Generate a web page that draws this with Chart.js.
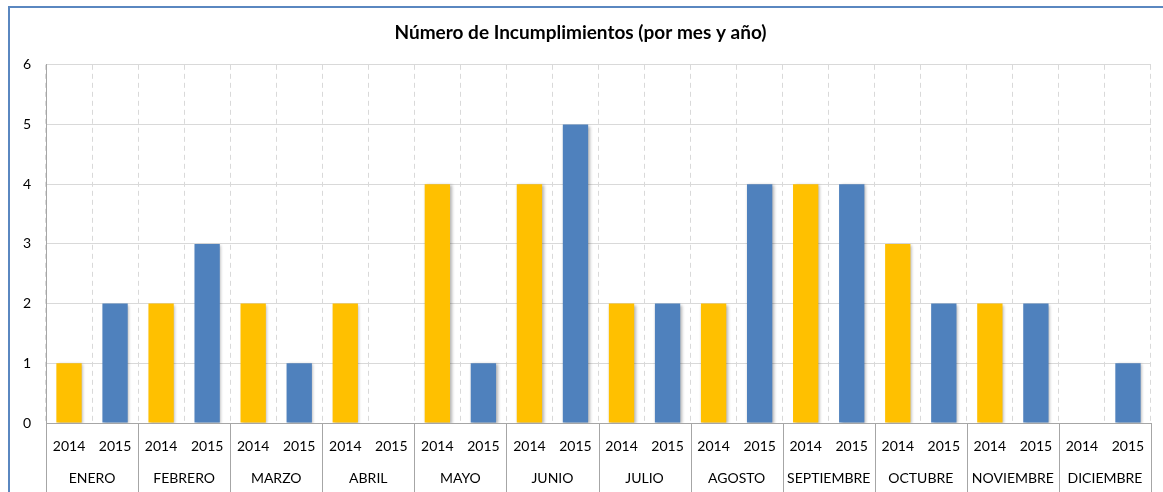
<!DOCTYPE html>
<html>
<head>
<meta charset="utf-8">
<script src="https://cdn.jsdelivr.net/npm/chart.js@4"></script>
<style>
  html, body { margin: 0; padding: 0; background: #fff; }
  #wrap { position: relative; width: 1163px; height: 492px; }
  #frame { position: absolute; left: 8px; top: 6px; width: 1170px; height: 500px;
           border-left: 2px solid #5a87c0; border-top: 2px solid #5a87c0; box-sizing: border-box; }
  canvas { position: absolute; left: 0; top: 0; }
</style>
</head>
<body>
<div id="wrap">
  <canvas id="incChart" width="1163" height="492"></canvas>
  <div id="frame"></div>
</div>
<script>
const months = ['ENERO', 'FEBRERO', 'MARZO', 'ABRIL', 'MAYO', 'JUNIO', 'JULIO',
  'AGOSTO', 'SEPTIEMBRE', 'OCTUBRE', 'NOVIEMBRE', 'DICIEMBRE'];
const years = ['2014', '2015'];
const values2014 = [1, 2, 2, 2, 4, 4, 2, 2, 4, 3, 2, 0];
const values2015 = [2, 3, 1, 0, 1, 5, 2, 4, 4, 2, 2, 1];
const yTicks = [0, 1, 2, 3, 4, 5, 6];

const yellow = '#FFC000';
const blue = '#4F81BD';
const font = 'Lato, "Open Sans", sans-serif';

// one bar per month/year, alternating 2014 / 2015
const labels = [];
const values = [];
const colors = [];
months.forEach((m, i) => {
  labels.push(years[0]); values.push(values2014[i]); colors.push(yellow);
  labels.push(years[1]); values.push(values2015[i]); colors.push(blue);
});

// month names + solid separators under the year row
const monthRow = {
  id: 'monthRow',
  afterDraw(chart) {
    const x = chart.scales.x;
    const c = chart.ctx;
    const area = chart.chartArea;
    const half = (x.getPixelForValue(1) - x.getPixelForValue(0)) / 2;
    c.save();
    c.strokeStyle = '#a6a6a6';
    c.lineWidth = 1;
    // solid y axis line on top of the dashed grid
    c.beginPath();
    c.moveTo(Math.round(area.left) + 0.5, area.top);
    c.lineTo(Math.round(area.left) + 0.5, area.bottom);
    c.stroke();
    c.fillStyle = '#000';
    c.font = '14px ' + font;
    c.textAlign = 'center';
    c.textBaseline = 'middle';
    months.forEach((m, i) => {
      const left = x.getPixelForValue(i * 2) - half;
      const right = x.getPixelForValue(i * 2 + 1) + half;
      c.beginPath();
      c.moveTo(Math.round(left) + 0.5, area.bottom);
      c.lineTo(Math.round(left) + 0.5, chart.height);
      c.stroke();
      if (i === months.length - 1) {
        c.beginPath();
        c.moveTo(Math.round(right) + 0.5, area.bottom);
        c.lineTo(Math.round(right) + 0.5, chart.height);
        c.stroke();
      }
      c.fillText(m, (left + right) / 2, area.bottom + 55);
    });
    c.restore();
  }
};

// soft shadow on the bars
const barShadow = {
  id: 'barShadow',
  beforeDatasetDraw(chart) {
    const c = chart.ctx;
    c.save();
    c.shadowColor = 'rgba(0,0,0,0.3)';
    c.shadowBlur = 3;
    c.shadowOffsetX = 1.5;
    c.shadowOffsetY = 1;
  },
  afterDatasetDraw(chart) {
    chart.ctx.restore();
  }
};

new Chart(document.getElementById('incChart'), {
  type: 'bar',
  data: {
    labels: labels,
    datasets: [{
      data: values,
      backgroundColor: colors,
      borderWidth: 0,
      barPercentage: 0.55,
      categoryPercentage: 1
    }]
  },
  options: {
    responsive: false,
    animation: false,
    layout: { padding: { left: 10, right: 12, top: 6, bottom: 0 } },
    plugins: {
      legend: { display: false },
      tooltip: { enabled: false },
      title: {
        display: true,
        text: 'Número de Incumplimientos (por mes y año)',
        color: '#000',
        font: { family: font, size: 19, weight: 'bold' },
        padding: { top: 15, bottom: 21 }
      }
    },
    scales: {
      x: {
        grid: {
          offset: true,
          color: '#d9d9d9',
          drawTicks: false
        },
        border: { display: true, color: '#a6a6a6', dash: [5, 4] },
        ticks: {
          color: '#000',
          font: { family: font, size: 14 },
          padding: 15,
          maxRotation: 0,
          autoSkip: false
        },
        afterFit(scale) { scale.height = 69; }
      },
      y: {
        min: 0,
        max: 6,
        afterBuildTicks(scale) { scale.ticks = yTicks.map(v => ({ value: v })); },
        grid: { color: '#d9d9d9', drawTicks: false },
        border: { display: true, color: '#a6a6a6' },
        ticks: {
          color: '#000',
          font: { family: font, size: 14 },
          padding: 15
        },
        afterFit(scale) { scale.width = 36; }
      }
    }
  },
  plugins: [monthRow, barShadow]
});
</script>
</body>
</html>
